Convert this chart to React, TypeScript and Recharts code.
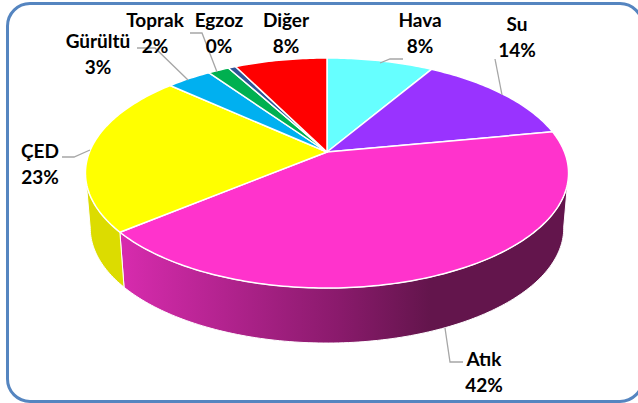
import { Pie, PieChart } from 'recharts'

const categories = ['Hava', 'Su', 'Atık', 'ÇED', 'Gürültü', 'Toprak', 'Egzoz', 'Diğer']
const sliceShares = [8.5, 13.5, 42, 22.7, 3.6, 1.7, 0.6, 7.4]
const printedPercents = ['8%', '14%', '42%', '23%', '3%', '2%', '0%', '8%']
const topColors = ['#66ffff', '#9933ff', '#ff33cc', '#ffff00', '#00b0f0', '#00b050', '#2f5597', '#ff0000']
const wallColors = ['#55d5d5', '#7f2bd5', 'url(#atikWall)', '#dcdc00', '#0093c8', '#009343', '#274780', '#d50000']

// label anchor (centre x, first baseline y) and leader line per slice
const labelAnchors = [
  [420, 27],
  [517, 31],
  [484, 366],
  [40, 158],
  [98, 48],
  [155, 27],
  [219, 27],
  [286, 27],
]
const leaderLines = [
  '380,63 390,59 403,59',
  '495,59 502,95',
  '445,328 450,362 463,362',
  '62,157 74,157 90,150',
  '137,48 155,48 188,80',
  '',
  '190,33 202,33 217,72',
  '',
]

const WIDTH = 638
const HEIGHT = 403
const CX = 327
const CY = 152
// perspective of the tilted disc
const RX = 237.5
const RY = 111.2
const TILT = 0.1826
const DEPTH = 55
const FLOOR_SCALE = 0.98

const data = categories.map((name, i) => ({ name, share: sliceShares[i], index: i }))

/** Project a pie angle (degrees, counter-clockwise from east) on to the tilted disc. */
function project(angle: number) {
  const rad = (angle * Math.PI) / 180
  const u = Math.cos(rad)
  const v = -Math.sin(rad)
  const w = 1 - TILT * v
  return { x: CX + (RX * u) / w, y: CY + (RY * v) / w }
}

function arcPoints(start: number, end: number) {
  const steps = Math.max(2, Math.ceil(Math.abs(end - start)))
  const pts = []
  for (let i = 0; i <= steps; i++) pts.push(project(start + ((end - start) * i) / steps))
  return pts
}

const toPath = (pts: { x: number; y: number }[]) =>
  pts.map((p, i) => `${i ? 'L' : 'M'}${p.x.toFixed(2)} ${p.y.toFixed(2)}`).join(' ')

/** One slice: side wall where it faces the viewer, then the top face. */
function Slice3D(props: any) {
  const { startAngle, endAngle, index } = props
  const rim = arcPoints(startAngle, endAngle)
  const front = rim.filter((p, i) => {
    const next = rim[i + 1]
    const prev = rim[i - 1]
    return (next && next.x < p.x) || (prev && p.x < prev.x)
  })
  const floor = front
    .map((p) => ({ x: CX + (p.x - CX) * FLOOR_SCALE, y: p.y + DEPTH }))
    .reverse()
  return (
    <g>
      {front.length > 1 && (
        <path
          d={`${toPath(front)} ${toPath(floor).replace('M', 'L')} Z`}
          fill={wallColors[index]}
          stroke="#ffffff"
          strokeWidth={1}
        />
      )}
      <path
        d={`M${CX} ${CY} ${toPath(rim).replace('M', 'L')} Z`}
        fill={topColors[index]}
        stroke="#ffffff"
        strokeWidth={1.5}
        strokeLinejoin="round"
      />
    </g>
  )
}

function SliceLabel(props: any) {
  const { index } = props
  const [x, y] = labelAnchors[index]
  const textProps = {
    x,
    textAnchor: 'middle' as const,
    fontFamily: 'Lato, sans-serif',
    fontWeight: 700,
    fontSize: 19,
    fill: '#000000',
  }
  return (
    <g>
      {leaderLines[index] && (
        <polyline points={leaderLines[index]} fill="none" stroke="#a6a6a6" strokeWidth={1.3} />
      )}
      <text {...textProps} y={y}>
        {categories[index]}
      </text>
      <text {...textProps} y={y + 26}>
        {printedPercents[index]}
      </text>
    </g>
  )
}

export default function App() {
  return (
    <div
      style={{
        position: 'absolute',
        left: 0,
        top: 0,
        width: WIDTH,
        height: HEIGHT,
        overflow: 'hidden',
        background: '#ffffff',
      }}
    >
      <div
        style={{
          position: 'absolute',
          left: 6,
          top: 2,
          width: 632,
          height: 395,
          border: '3px solid #5585c0',
          borderRadius: 24,
        }}
      />
      <div style={{ position: 'absolute', left: 0, top: 0 }}>
        <PieChart width={WIDTH} height={HEIGHT} margin={{ top: 0, right: 0, bottom: 0, left: 0 }}>
          <defs>
            <linearGradient id="atikWall" gradientUnits="userSpaceOnUse" x1={124} y1={0} x2={430} y2={0}>
              <stop offset="0" stopColor="#d62bad" />
              <stop offset="0.7" stopColor="#8a1a6c" />
              <stop offset="1" stopColor="#63154c" />
            </linearGradient>
          </defs>
          <Pie
            data={data}
            dataKey="share"
            nameKey="name"
            cx={CX}
            cy={CY}
            outerRadius={100}
            startAngle={90}
            endAngle={-270}
            stroke="none"
            shape={Slice3D}
            label={SliceLabel}
            labelLine={false}
            isAnimationActive={false}
          />
        </PieChart>
      </div>
    </div>
  )
}
